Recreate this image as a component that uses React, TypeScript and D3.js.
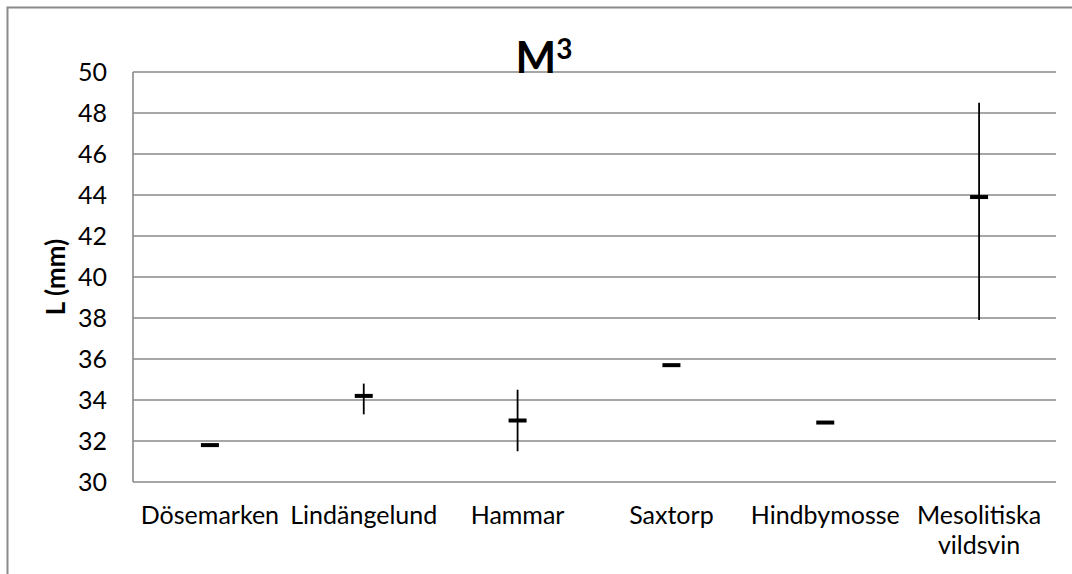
import React from "react";
import * as d3 from "d3";

const categories = ["Dösemarken", "Lindängelund", "Hammar", "Saxtorp", "Hindbymosse", "Mesolitiska vildsvin"];
const categoryLines = [["Dösemarken"], ["Lindängelund"], ["Hammar"], ["Saxtorp"], ["Hindbymosse"], ["Mesolitiska", "vildsvin"]];
const means = [31.8, 34.2, 33.0, 35.7, 32.9, 43.9];
const lows = [31.8, 33.3, 31.5, 35.7, 32.9, 37.9];
const highs = [31.8, 34.8, 34.5, 35.7, 32.9, 48.5];
const yTicks = [30, 32, 34, 36, 38, 40, 42, 44, 46, 48, 50];
const title = "M";
const titleSup = "3";
const yLabel = "L (mm)";

const W = 1072;
const H = 574;
const plot = { left: 133, right: 1056, top: 72, bottom: 482 };
const FONT = "Lato, 'Open Sans', sans-serif";
const GRID = "#898989";

export default function App() {
  const x = d3.scaleBand<string>().domain(categories).range([plot.left, plot.right]).padding(0);
  const y = d3.scaleLinear().domain([30, 50]).range([plot.bottom, plot.top]);
  const cx = (c: string) => (x(c) as number) + x.bandwidth() / 2;

  return (
    <div style={{ position: "absolute", left: 0, top: 0, width: W, height: H, background: "#fff" }}>
      <svg width={W} height={H} style={{ display: "block" }}>
        <rect x={0} y={0} width={W} height={H} fill="#fff" />
        <rect x={7.5} y={7.5} width={1200} height={800} fill="none" stroke="#8a8a8a" strokeWidth={2} />
        {yTicks.map((t) => (
          <g key={t}>
            {t !== 30 && (
              <line x1={plot.left} x2={plot.right} y1={y(t)} y2={y(t)} stroke={GRID} strokeWidth={1.4} />
            )}
            <text x={107} y={y(t)} dy="0.35em" textAnchor="end" fontFamily={FONT} fontSize={25} fill="#000">
              {t}
            </text>
          </g>
        ))}
        <line x1={plot.left} x2={plot.left} y1={plot.top} y2={plot.bottom} stroke={GRID} strokeWidth={1.6} />
        <line x1={plot.left} x2={plot.right} y1={plot.bottom} y2={plot.bottom} stroke={GRID} strokeWidth={1.6} />
        {categories.map((c, i) => (
          <g key={c}>
            {highs[i] > lows[i] && (
              <line x1={cx(c)} x2={cx(c)} y1={y(highs[i])} y2={y(lows[i])} stroke="#000" strokeWidth={1.8} />
            )}
            <line x1={cx(c) - 9} x2={cx(c) + 9} y1={y(means[i])} y2={y(means[i])} stroke="#000" strokeWidth={4} />
            {categoryLines[i].map((ln, j) => (
              <text key={j} x={cx(c)} y={524 + j * 30} textAnchor="middle" fontFamily={FONT} fontSize={25} fill="#000">
                {ln}
              </text>
            ))}
          </g>
        ))}
        <text x={544} y={73} textAnchor="middle" fontFamily={FONT} fontSize={43} fontWeight="bold" fill="#000">
          {title}
          <tspan fontSize={28} dy={-14}>{titleSup}</tspan>
        </text>
        <text
          transform={`translate(65, ${(plot.top + plot.bottom) / 2}) rotate(-90)`}
          textAnchor="middle"
          fontFamily={FONT}
          fontSize={26}
          fontWeight="bold"
          fill="#000"
        >
          {yLabel}
        </text>
      </svg>
    </div>
  );
}
